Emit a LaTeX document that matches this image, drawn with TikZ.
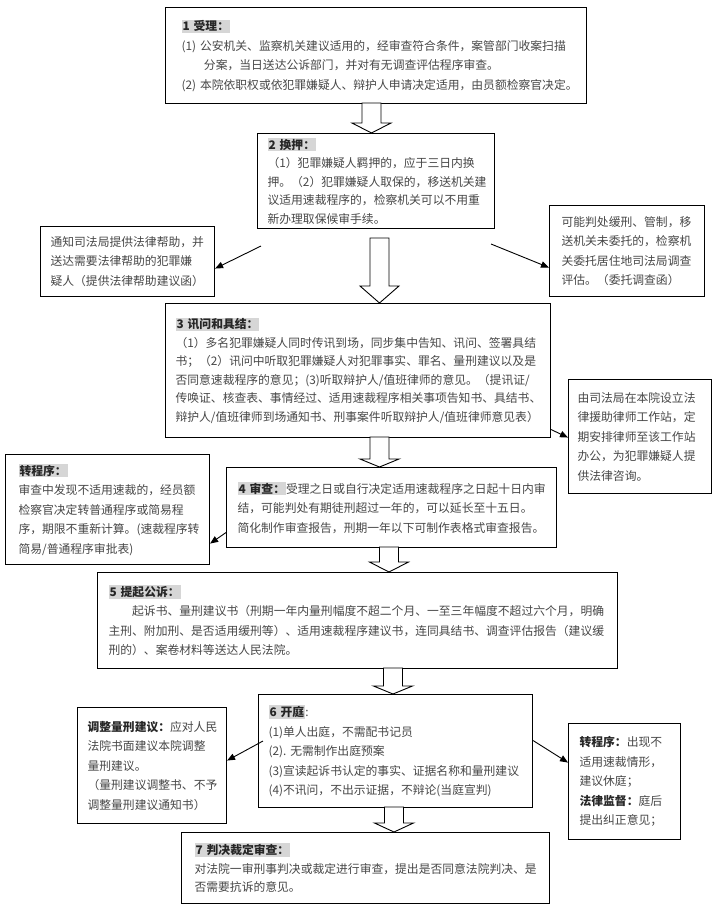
\documentclass[tikz,border=0pt]{standalone}
\usepackage{fontspec}
\setmainfont{Noto Sans CJK SC}
\usetikzlibrary{arrows.meta}
\definecolor{txt}{HTML}{474747}
\definecolor{hl}{HTML}{D6D6D6}
\hyphenpenalty=10000
\exhyphenpenalty=10000
\newcommand\ttl[1]{{\setlength\fboxsep{1pt}\colorbox{hl}{\bfseries\color{black!85}#1}}}
\newcommand\blkarrow[4]{\draw[hollow] ({#1-9.5},#2) -- ({#1+9.5},#2) -- ({#1+9.5},#3) -- ({#1+19.5},#3) -- (#1,#4) -- ({#1-19.5},#3) -- ({#1-9.5},#3) -- cycle;}
\tikzset{
  box/.style={draw=black, line width=1.1pt, fill=white, anchor=north west, align=left,
    inner ysep=0pt, text=txt, font=\fontsize{11.8}{19.5}\selectfont},
  tight/.style={font=\fontsize{11.8}{18.5}\selectfont},
  hollow/.style={draw=black, line width=0.9pt, fill=white, line join=miter},
  conn/.style={draw=black, line width=0.9pt, -{Triangle[length=8pt,width=6.5pt]}}
}
\begin{document}
\begin{tikzpicture}[x=1pt,y=-1pt]
\fill[white] (0,0) rectangle (717,911);
\useasboundingbox (0,0) rectangle (717,911);

% main column
\node[box, minimum width=421pt, minimum height=96pt, text width=389pt, inner xsep=16pt] (b1) at (165,7) {%
\ttl{1 受理：}\\
(1)~公安机关、监察机关建议适用的，经审查符合条件，案管部门收案扫描\\
\hspace*{1.9em}分案，当日送达公诉部门，并对有无调查评估程序审查。\\
(2)~本院依职权或依犯罪嫌疑人、辩护人申请决定适用，由员额检察官决定。};

\node[box, tight, minimum width=237pt, minimum height=95pt, text width=217pt, inner xsep=10pt] (b2) at (257,133) {%
\ttl{2 换押：}\\
（1）犯罪嫌疑人羁押的，应于三日内换\\
押。（2）犯罪嫌疑人取保的，移送机关建\\
议适用速裁程序的，检察机关可以不用重\\
新办理取保候审手续。};

\node[box, minimum width=174pt, minimum height=70pt, text width=154pt, inner xsep=10pt] (l2) at (40,226) {%
通知司法局提供法律帮助，并\\
送达需要法律帮助的犯罪嫌\\
疑人（提供法律帮助建议函）};

\node[box, minimum width=155pt, minimum height=91pt, text width=131pt, inner xsep=12pt] (r2) at (549,205) {%
可能判处缓刑、管制，移\\
送机关未委托的，检察机\\
关委托居住地司法局调查\\
评估。（委托调查函）};

\node[box, tight, minimum width=385pt, minimum height=134pt, text width=365pt, inner xsep=10pt] (b3) at (165,303) {%
\ttl{3 讯问和具结：}\\
（1）多名犯罪嫌疑人同时传讯到场，同步集中告知、讯问、签署具结\\
书；（2）讯问中听取犯罪嫌疑人对犯罪事实、罪名、量刑建议以及是\\
否同意速裁程序的意见；(3)听取辩护人/值班律师的意见。（提讯证/\\
传唤证、核查表、事情经过、适用速裁程序相关事项告知书、具结书、\\
辩护人/值班律师到场通知书、刑事案件听取辩护人/值班律师意见表）};

\node[box, minimum width=143pt, minimum height=114pt, text width=125pt, inner xsep=9pt] (r3) at (568,379) {%
由司法局在本院设立法\\
律援助律师工作站，定\\
期安排律师至该工作站\\
办公，为犯罪嫌疑人提\\
供法律咨询。};

\node[box, minimum width=330pt, minimum height=80pt, text width=308pt, inner xsep=11pt] (b4) at (226,467) {%
\ttl{4 审查：}受理之日或自行决定适用速裁程序之日起十日内审\\
结，可能判处有期徒刑超过一年的，可以延长至十五日。\\
简化制作审查报告，刑期一年以下可制作表格式审查报告。};

\node[box, minimum width=204pt, minimum height=110pt, text width=178pt, inner xsep=13pt] (l4) at (5,454) {%
\ttl{转程序：}\\
审查中发现不适用速裁的，经员额\\
检察官决定转普通程序或简易程\\
序，期限不重新计算。(速裁程序转\\
简易/普通程序审批表)};

\node[box, minimum width=520pt, minimum height=96pt, text width=498pt, inner xsep=11pt] (b5) at (97,572) {%
\ttl{5 提起公诉：}\\
\hspace*{2em}起诉书、量刑建议书（刑期一年内量刑幅度不超二个月、一至三年幅度不超过六个月，明确\\
主刑、附加刑、是否适用缓刑等）、适用速裁程序建议书，连同具结书、调查评估报告（建议缓\\
刑的）、案卷材料等送达人民法院。};

\node[box, minimum width=274pt, minimum height=113pt, text width=254pt, inner xsep=10pt] (b6) at (258,694) {%
\ttl{6 开庭}:\\
(1)单人出庭，不需配书记员\\
(2).~无需制作出庭预案\\
(3)宣读起诉书认定的事实、证据名称和量刑建议\\
(4)不讯问，不出示证据，不辩论(当庭宣判)};

\node[box, minimum width=149pt, minimum height=116pt, text width=129pt, inner xsep=10pt] (l6) at (77,707) {%
\textbf{\color{black!85}调整量刑建议：}应对人民\\
法院书面建议本院调整\\
量刑建议。\\
（量刑建议调整书、不予\\
调整量刑建议通知书）};

\node[box, minimum width=112pt, minimum height=116pt, text width=90pt, inner xsep=11pt] (r6) at (568,723) {%
\textbf{\color{black!85}转程序：}出现不\\
适用速裁情形，\\
建议休庭；\\
\textbf{\color{black!85}法律监督：}庭后\\
提出纠正意见；};

\node[box, tight, minimum width=368pt, minimum height=71pt, text width=342pt, inner xsep=13pt] (b7) at (181,832) {%
\ttl{7 判决裁定审查：}\\
对法院一审刑事判决或裁定进行审查，提出是否同意法院判决、是\\
否需要抗诉的意见。};

% block arrows
\blkarrow{371.5}{103}{123}{133}
\blkarrow{379.5}{238}{286}{303}
\blkarrow{379.5}{437}{459}{467}
\blkarrow{389}{547}{562}{572}
\blkarrow{393}{668}{686}{694}
\blkarrow{394}{807}{823}{832}

% thin connectors
\coordinate (c2l) at (261,246);
\coordinate (c2r) at (491,244);
\coordinate (c6l) at (263,741);
\draw[conn] (c2l) -- ([yshift=-7pt]l2.east);
\draw[conn] (c2r) -- ([yshift=-16.5pt]r2.west);
\draw[conn] ([yshift=-59pt]b3.east) -- ([yshift=-1pt]r3.west);
\draw[conn] ([yshift=-25pt]b4.west) -- ([yshift=-34pt]l4.east);
\draw[conn] (c6l) -- ([yshift=5pt]l6.east);
\draw[conn] ([yshift=10.5pt]b6.east) -- ([yshift=19pt]r6.west);
\end{tikzpicture}
\end{document}
